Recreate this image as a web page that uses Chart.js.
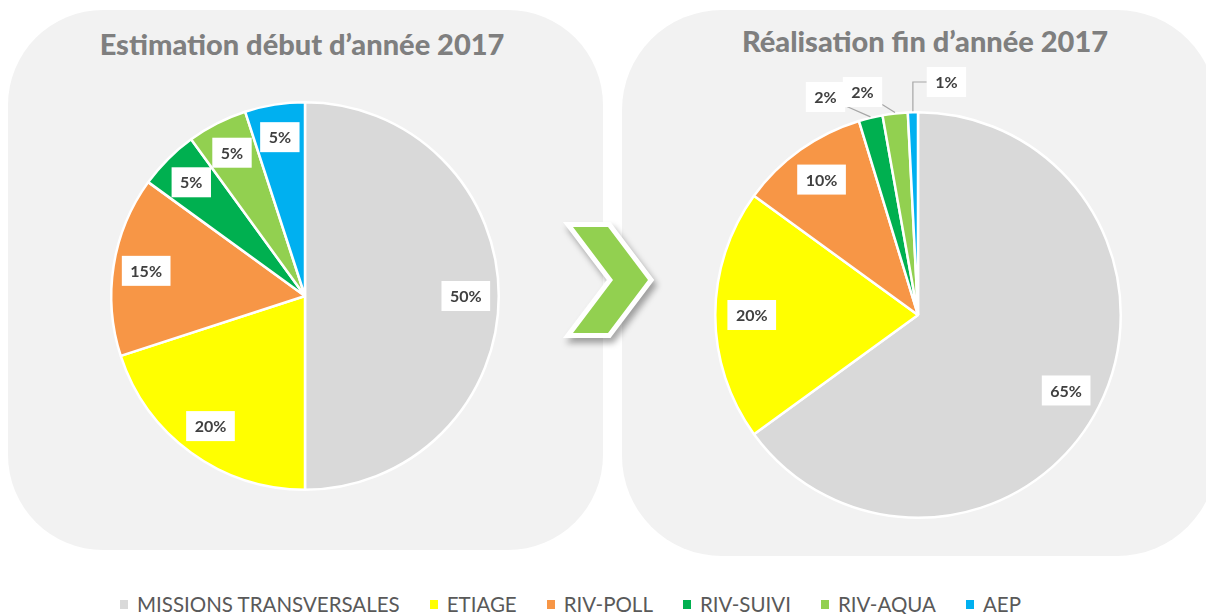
<!DOCTYPE html>
<html><head><meta charset="utf-8">
<script src="https://cdn.jsdelivr.net/npm/chart.js@4"></script>
<style>
html,body{margin:0;padding:0;background:#fff;width:1206px;height:614px;overflow:hidden;position:relative;font-family:Lato,"Open Sans",sans-serif}
.panel{position:absolute;background:#f2f2f2}
#p1{left:8px;top:10px;width:595px;height:540px;border-radius:95px}
#p2{left:622px;top:10px;width:595px;height:546px;border-radius:100px}
.title{position:absolute;font-weight:900;font-size:29px;color:#7f7f7f;white-space:nowrap;transform:translateX(-50%);line-height:32px}
#t1{left:302px;top:28px}
#t2{left:925px;top:25px}
canvas{position:absolute}
#c1{left:105px;top:96px}
#c2{left:658px;top:55px}
#arrow{position:absolute;left:550px;top:210px;filter:drop-shadow(3px 5px 3px rgba(0,0,0,0.35))}
#legend{position:absolute;left:120px;top:591px;display:flex;gap:30px;font-size:20.5px;color:#595959;line-height:26px}
.li{display:flex;align-items:center;white-space:nowrap}
.sw{width:8px;height:9px;margin-right:9px}
</style></head>
<body>
<div class="panel" id="p1"></div>
<div class="panel" id="p2"></div>
<div class="title" id="t1">Estimation début d’année 2017</div>
<div class="title" id="t2">Réalisation fin d’année 2017</div>
<svg id="arrow" width="120" height="145" viewBox="550 210 120 145">
  <polygon points="573,227 608,227 648,280 608,333 573,333 613,280" fill="#92d050" stroke="#ffffff" stroke-width="10" stroke-linejoin="miter" paint-order="stroke"/>
</svg>
<canvas id="c1" width="400" height="400"></canvas>
<canvas id="c2" width="520" height="520"></canvas>
<div id="legend"></div>
<script>
const categories = ['MISSIONS TRANSVERSALES','ETIAGE','RIV-POLL','RIV-SUIVI','RIV-AQUA','AEP'];
const estimationValues = [50,20,15,5,5,5];
const realisationValues = [65,20,10.3,1.9,2.0,0.8];
const sliceColors = ['#d9d9d9','#ffff00','#f79646','#00b050','#92d050','#00b0f0'];

const sliceLabels = {
  id:'sliceLabels',
  afterDatasetsDraw(chart, args, opts){
    const ctx = chart.ctx;
    const meta = chart.getDatasetMeta(0);
    const data = chart.data.datasets[0].data;
    const total = data.reduce((a,b)=>a+b,0);
    ctx.save();
    ctx.font = 'bold 16px Lato, "Open Sans", sans-serif';
    ctx.textAlign = 'center';
    ctx.textBaseline = 'middle';
    meta.data.forEach((arc,i)=>{
      const p = arc.getProps(['x','y','startAngle','endAngle','outerRadius'], true);
      const mid = (p.startAngle + p.endAngle)/2;
      const out = opts.outside ? opts.outside[i] : null;
      const txt = Math.round(data[i]/total*100) + '%';
      const bw = ctx.measureText(txt).width + 17, bh = 30;
      let cx, cy;
      if (out) {
        const a = mid + out.shift*Math.PI/180, d = p.outerRadius + out.dist;
        cx = p.x + Math.cos(a)*d; cy = p.y + Math.sin(a)*d;
      } else {
        cx = p.x + Math.cos(mid)*p.outerRadius*opts.inside;
        cy = p.y + Math.sin(mid)*p.outerRadius*opts.inside;
      }
      const L = cx-bw/2, R = cx+bw/2, T = cy-bh/2, B = cy+bh/2;
      if (out) {
        const px = p.x + Math.cos(mid)*(p.outerRadius+1), py = p.y + Math.sin(mid)*(p.outerRadius+1);
        const dx = px-cx, dy = py-cy;
        ctx.strokeStyle = '#a6a6a6'; ctx.lineWidth = 1.2;
        ctx.beginPath();
        ctx.moveTo(px,py);
        if ((px < L || px > R) && Math.abs(dx) < 1.3*Math.abs(dy)) {
          ctx.lineTo(px, cy);
          ctx.lineTo(px < L ? L : R, cy);
        } else {
          const s = Math.min((bw/2)/Math.abs(dx||1e-6), (bh/2)/Math.abs(dy||1e-6));
          ctx.lineTo(cx + dx*s, cy + dy*s);
        }
        ctx.stroke();
      }
      ctx.fillStyle = '#ffffff';
      ctx.fillRect(L, T, bw, bh);
      ctx.fillStyle = '#404040';
      ctx.fillText(txt, cx, cy+1);
    });
    ctx.restore();
  }
};

function makePie(id, values, padding, labelOpts){
  return new Chart(document.getElementById(id), {
    type:'pie',
    data:{labels:categories, datasets:[{data:values, backgroundColor:sliceColors, borderColor:'#ffffff', borderWidth:2.5}]},
    options:{
      responsive:false, animation:false,
      layout:{padding:padding},
      plugins:{legend:{display:false}, tooltip:{enabled:false}, sliceLabels:labelOpts}
    },
    plugins:[sliceLabels]
  });
}
makePie('c1', estimationValues, 5, {inside:0.83});
makePie('c2', realisationValues, 56, {inside:0.82, outside:[null,null,null,{shift:-9.5,dist:34},{shift:-7.5,dist:27},{shift:8.4,dist:32}]});

const leg = document.getElementById('legend');
categories.forEach((c,i)=>{
  const d = document.createElement('div'); d.className='li';
  d.innerHTML = '<span class="sw" style="background:'+sliceColors[i]+'"></span><span>'+c+'</span>';
  leg.appendChild(d);
});
</script>
</body></html>
